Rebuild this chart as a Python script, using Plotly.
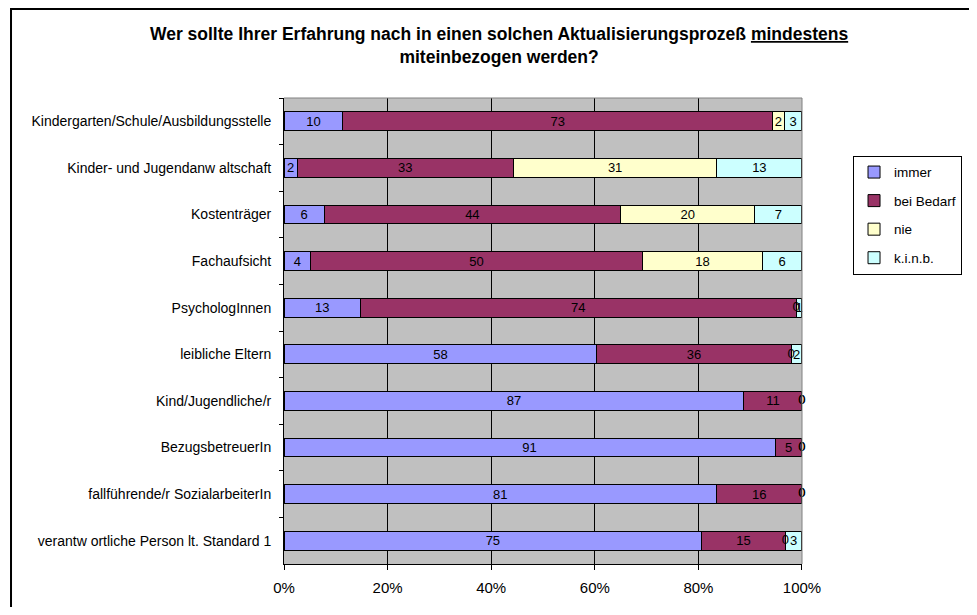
import plotly.graph_objects as go

categories = [
    "Kindergarten/Schule/Ausbildungsstelle",
    "Kinder- und Jugendanw altschaft",
    "Kostenträger",
    "Fachaufsicht",
    "PsychologInnen",
    "leibliche Eltern",
    "Kind/Jugendliche/r",
    "BezugsbetreuerIn",
    "fallführende/r SozialarbeiterIn",
    "verantw ortliche Person lt. Standard 1",
]
immer = [10, 2, 6, 4, 13, 58, 87, 91, 81, 75]
bei_bedarf = [73, 33, 44, 50, 74, 36, 11, 5, 16, 15]
nie = [2, 31, 20, 18, 0, 0, 0, 0, 0, 0]
kinb = [3, 13, 7, 6, 1, 2, 0, 0, 0, 3]
x_ticks = [0, 20, 40, 60, 80, 100]
x_ticklabels = ["0%", "20%", "40%", "60%", "80%", "100%"]

series = [
    ("immer", immer, "#9999FF"),
    ("bei Bedarf", bei_bedarf, "#993366"),
    ("nie", nie, "#FFFFCC"),
    ("k.i.n.b.", kinb, "#CCFFFF"),
]

FONT = "Liberation Sans, Arial, sans-serif"

fig = go.Figure()
for name, vals, color in series:
    fig.add_trace(go.Bar(
        y=categories,
        x=vals,
        name=name,
        orientation="h",
        marker=dict(color=color, line=dict(color="black", width=1)),
        text=[str(v) for v in vals],
        textposition="inside",
        insidetextanchor="middle",
        textangle=0,
        constraintext="none",
        cliponaxis=False,
        textfont=dict(family=FONT, size=13, color="black"),
        legendgroup=name,
    ))

# zero-valued segments have no width, so their "0" labels are drawn separately
totals = [sum(s[1][i] for s in series) for i in range(len(categories))]
zx, zy = [], []
for i, cat in enumerate(categories):
    cum = 0
    for name, vals, color in series:
        if vals[i] == 0:
            zx.append(cum / totals[i] * 100)
            zy.append(cat)
        cum += vals[i]
fig.add_trace(go.Scatter(
    x=zx, y=zy, mode="text", text=["0"] * len(zx),
    textfont=dict(family=FONT, size=13, color="black"),
    textposition="middle center",
    showlegend=False, hoverinfo="skip", cliponaxis=False,
))

fig.update_layout(
    width=961,
    height=599,
    barmode="stack",
    barnorm="percent",
    bargap=0.6,
    paper_bgcolor="white",
    plot_bgcolor="#C0C0C0",
    font=dict(family=FONT, size=13, color="black"),
    margin=dict(l=276, r=167, t=90, b=43, autoexpand=False),
    title=dict(
        text="Wer sollte Ihrer Erfahrung nach in einen solchen Aktualisierungsprozeß <u>mindestens</u><br>miteinbezogen werden?",
        x=0.511,
        xanchor="center",
        xref="container",
        y=0.9466,
        yanchor="middle",
        yref="container",
        font=dict(family=FONT, size=17.5, color="black", weight="bold"),
    ),
    legend=dict(
        x=1.0985,
        y=0.876,
        xanchor="left",
        yanchor="top",
        bordercolor="black",
        borderwidth=1,
        bgcolor="white",
        font=dict(family=FONT, size=13.5),
        tracegroupgap=8,
        itemwidth=30,
    ),
    xaxis=dict(
        range=[0, 100.001],
        tickvals=x_ticks,
        ticktext=x_ticklabels,
        showgrid=True,
        gridcolor="black",
        gridwidth=1,
        zeroline=False,
        showline=True,
        linecolor="black",
        linewidth=1,
        ticks="outside",
        ticklen=5,
        tickcolor="black",
        tickfont=dict(family=FONT, size=15),
        ticklabelstandoff=5,
        fixedrange=True,
    ),
    yaxis=dict(
        categoryorder="array",
        categoryarray=categories,
        autorange="reversed",
        showgrid=False,
        showline=True,
        linecolor="black",
        linewidth=1,
        ticks="outside",
        ticklen=4,
        tickcolor="black",
        tickson="boundaries",
        tickfont=dict(family=FONT, size=14),
        ticklabelstandoff=9,
        fixedrange=True,
    ),
)

# gray border on top/right of plot area
fig.add_shape(type="line", xref="paper", yref="paper", x0=0, x1=1, y0=1, y1=1,
              line=dict(color="#808080", width=1))
fig.add_shape(type="line", xref="paper", yref="paper", x0=1, x1=1, y0=0, y1=1,
              line=dict(color="#808080", width=1))

# outer chart frame (only top and left edges fall inside the picture)
fig.add_shape(type="rect", xref="paper", yref="paper",
              x0=-0.527, x1=2, y0=-0.5, y1=1.191,
              line=dict(color="black", width=2), layer="below")

fig.write_html("out.html")
